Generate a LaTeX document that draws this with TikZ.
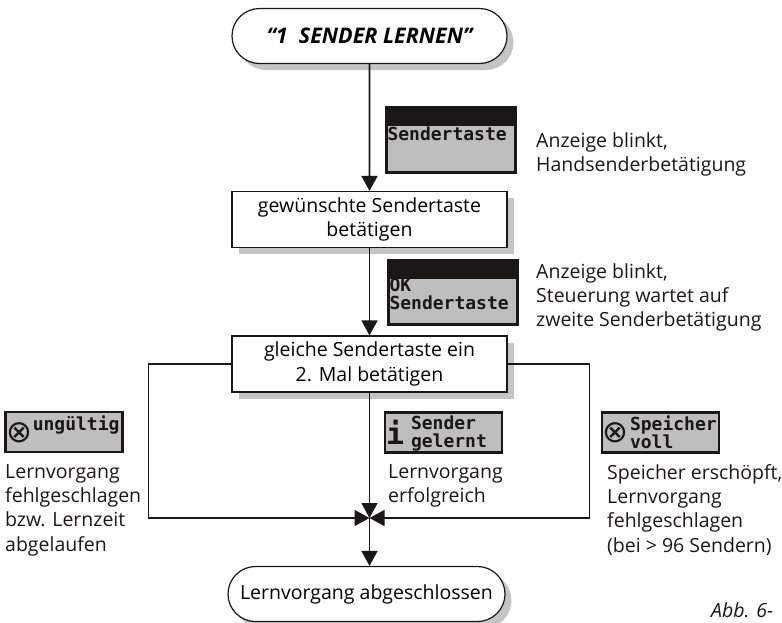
\documentclass[tikz,border=0pt]{standalone}
\usepackage{fontspec}
\setmainfont{Open Sans}
\newfontfamily\lcdfont{DejaVu Sans Mono}
\newfontfamily\iconfont{DejaVu Sans}
\usetikzlibrary{arrows.meta,shadows,shapes.misc}
\definecolor{ink}{HTML}{1A1714}
\definecolor{lcdgray}{HTML}{BEBEBE}
\definecolor{shadowgray}{HTML}{C4C4C4}
\newcommand{\textsz}{\fontsize{19.5}{24.4}\selectfont}
\newcommand{\lcdsz}{\fontsize{18}{18}\selectfont\lcdfont\bfseries}
\tikzstyle{shade} = [fill=white,draw=ink,line width=1.2pt,drop shadow={shadow xshift=6.5pt,shadow yshift=-6.5pt,opacity=1,fill=shadowgray}]
\tikzstyle{block} = [shade,rectangle,align=center,text centered,minimum width=275pt,minimum height=56pt,inner sep=0pt]
\tikzstyle{pill} = [shade,rounded rectangle,align=center,minimum height=55pt,inner sep=0pt]
\tikzstyle{lcd} = [rectangle,fill=lcdgray,draw=ink,line width=2.4pt,minimum width=117pt,minimum height=40pt,inner sep=0pt]
\tikzstyle{lcdbar} = [path picture={\fill [ink] (path picture bounding box.north west) rectangle ([yshift=-18pt]path picture bounding box.north east);}]
\tikzstyle{lcdtext} = [align=left,inner sep=0pt,text=ink,font=\lcdsz]
\tikzstyle{lcdicon} = [inner sep=0pt,text=ink,font=\fontsize{31}{31}\selectfont\iconfont]
\tikzstyle{note} = [align=left,inner sep=0pt,text=ink,font=\textsz,anchor=north west]
\tikzstyle{flow} = [draw=ink,line width=1.8pt,-{Triangle[length=15pt,width=16pt]}]
\tikzstyle{side} = [draw=ink,line width=1.2pt,-{Triangle[length=15pt,width=16pt]}]

\begin{document}
\begin{tikzpicture}[x=1pt,y=1pt,node distance=100pt]
	\useasboundingbox (0,0) rectangle (782,-622);
	\node (start) [pill,minimum width=275pt] at (369.5,-36) {\fontsize{21.5}{24}\selectfont\itshape\bfseries “1\ \ SENDER LERNEN”};
	\node (boxOne) [block,below of=start,node distance=183.5pt,font=\textsz] {gewünschte Sendertaste\\betätigen};
	\node (boxTwo) [block,below of=boxOne,node distance=144.5pt,font=\textsz] {gleiche Sendertaste ein\\2. Mal betätigen};
	\coordinate (join) at (369.5,-518);
	\node (finish) [pill,minimum width=277pt,font=\textsz] at (366.5,-594) {Lernvorgang abgeschlossen};

	\node (lcdOne) [lcd,lcdbar,minimum width=129pt,minimum height=65pt] at (451,-140) {};
	\node (lcdTwo) [lcd,lcdbar,minimum width=129pt,minimum height=64pt] at (453,-292.5) {};
	\node (lcdThree) [lcd] at (64,-432) {};
	\node (lcdFour) [lcd] at (443.5,-432.5) {};
	\node (lcdFive) [lcd] at (660.5,-432.5) {};

	\node (txtOne) [lcdtext,anchor=west] at ([xshift=2pt,yshift=6pt]lcdOne.west) {Sendertaste};
	\node (txtTwo) [lcdtext,anchor=west] at ([xshift=2pt,yshift=-1pt]lcdTwo.west) {OK\\Sendertaste};
	\node (iconThree) [lcdicon] at ([xshift=15pt,yshift=-1pt]lcdThree.west) {⊗};
	\node (txtThree) [lcdtext,anchor=east] at ([xshift=-4pt,yshift=7pt]lcdThree.east) {ungültig};
	\node (iconFour) [lcdtext,anchor=west,font=\fontsize{30}{30}\selectfont\lcdfont\bfseries] at ([xshift=2pt]lcdFour.west) {i};
	\node (txtFour) [lcdtext,anchor=west] at ([xshift=27pt,yshift=-1pt]lcdFour.west) {Sender\\gelernt};
	\node (iconFive) [lcdicon] at ([xshift=15pt,yshift=0pt]lcdFive.west) {⊗};
	\node (txtFive) [lcdtext,anchor=west] at ([xshift=29pt]lcdFive.west) {Speicher\\voll};

	\node (noteOne) [note] at (536,-132) {Anzeige blinkt,\\Handsenderbetätigung};
	\node (noteTwo) [note] at (536,-263) {Anzeige blinkt,\\Steuerung wartet auf\\zweite Senderbetätigung};
	\node (noteThree) [note] at (5,-464) {Lernvorgang\\fehlgeschlagen\\bzw. Lernzeit\\abgelaufen};
	\node (noteFour) [note] at (388,-464) {Lernvorgang\\erfolgreich};
	\node (noteFive) [note] at (607,-464) {Speicher erschöpft,\\Lernvorgang\\fehlgeschlagen\\(bei > 96 Sendern)};
	\node (caption) [anchor=base west,inner sep=0pt,text=ink,font=\textsz\itshape] at (711,-617) {Abb. 6-};

	\draw [flow] (start) -- (boxOne);
	\draw [flow] (boxOne) -- (boxTwo);
	\draw [flow] (boxTwo) -- (join);
	\draw [flow] (join) -- (join |- finish.north);
	\draw [side] (boxTwo.west) -- ++(-83,0) |- (join);
	\draw [side] (boxTwo.east) -- ++(82,0) |- (join);
\end{tikzpicture}
\end{document}
